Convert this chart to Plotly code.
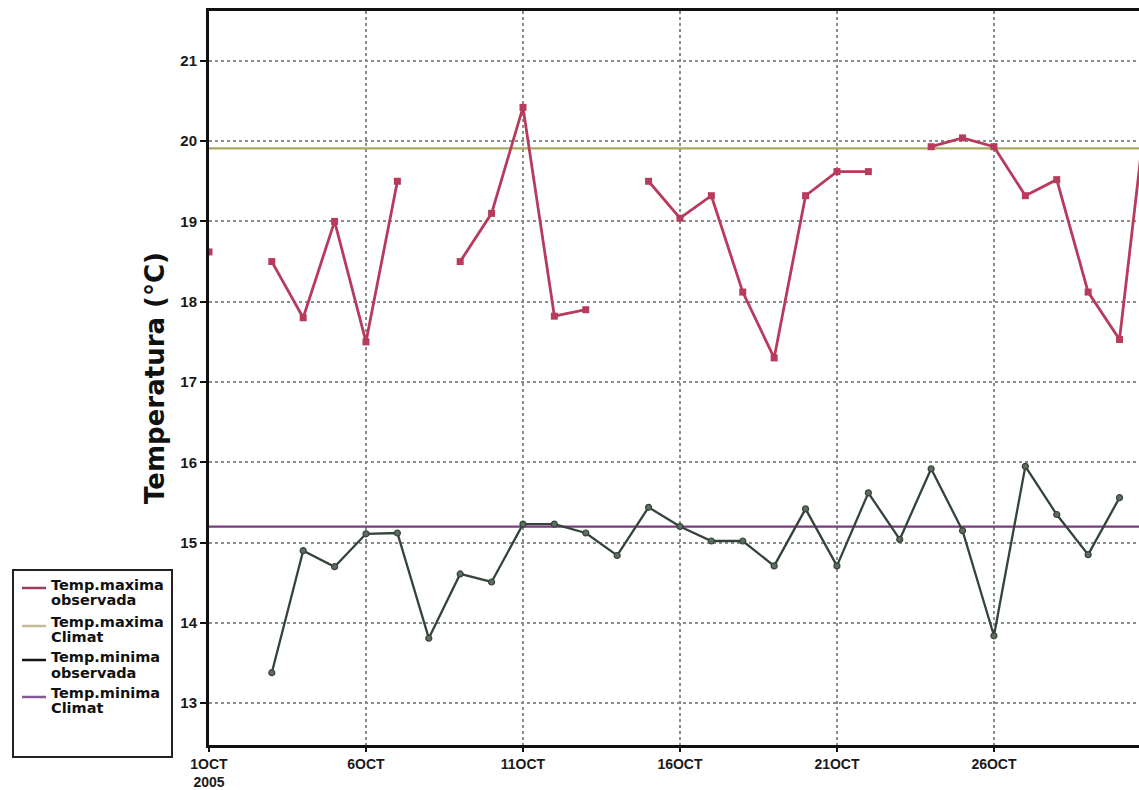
import plotly.graph_objects as go

# ---------------- data ----------------
days = list(range(1, 32))
tmax_obs = [18.62, None, 18.5, 17.8, 19.0, 17.5, 19.5, None, 18.5, 19.1,
            20.42, 17.82, 17.9, None, 19.5, 19.04, 19.32, 18.12, 17.3, 19.32,
            19.62, 19.62, None, 19.93, 20.04, 19.93, 19.32, 19.52, 18.12, 17.53,
            20.9]
tmin_obs = [None, None, 13.38, 14.9, 14.7, 15.11, 15.12, 13.81, 14.61, 14.51,
            15.23, 15.23, 15.12, 14.84, 15.44, 15.2, 15.02, 15.02, 14.71, 15.42,
            14.71, 15.62, 15.04, 15.92, 15.15, 13.84, 15.95, 15.35, 14.85, 15.56,
            None]
tmax_clim = 19.91
tmin_clim = 15.2

tick_days = [1, 6, 11, 16, 21, 26]
tick_labels = ["1OCT<br>2005", "6OCT", "11OCT", "16OCT", "21OCT", "26OCT"]
y_ticks = [13, 14, 15, 16, 17, 18, 19, 20, 21]

legend_line1 = ["Temp.maxima", "Temp.maxima", "Temp.minima", "Temp.minima"]
legend_line2 = ["observada", "Climat", "observada", "Climat"]

# ---------------- styles ----------------
RED = "#b83a5c"
OLIVE = "#a9a862"
GREEN = "#34443a"
PURPLE = "#7a3c80"
LEG_COLORS = ["#9c3c58", "#c2bb94", "#151515", "#875a96"]

W, H = 1139, 790
ML, MR, MT, MB = 209, 0, 11, 45
PW, PH = W - ML - MR, H - MT - MB


def px(x):
    return (x - ML) / PW


def py(y):
    return (H - MB - y) / PH


fig = go.Figure()

fig.add_trace(go.Scatter(x=[days[0], days[-1]], y=[tmax_clim, tmax_clim],
                         mode="lines", line=dict(color=OLIVE, width=2.2),
                         name="Temp.maxima Climat", showlegend=False))
fig.add_trace(go.Scatter(x=[days[0], days[-1]], y=[tmin_clim, tmin_clim],
                         mode="lines", line=dict(color=PURPLE, width=2.2),
                         name="Temp.minima Climat", showlegend=False))
fig.add_trace(go.Scatter(x=days, y=tmax_obs, mode="lines+markers",
                         line=dict(color=RED, width=2.8),
                         marker=dict(symbol="square", size=7, color=RED),
                         connectgaps=False,
                         name="Temp.maxima observada", showlegend=False))
fig.add_trace(go.Scatter(x=days, y=tmin_obs, mode="lines+markers",
                         line=dict(color=GREEN, width=2.3),
                         marker=dict(symbol="circle", size=6, color="#5d6d60",
                                     line=dict(color=GREEN, width=1.2)),
                         connectgaps=False,
                         name="Temp.minima observada", showlegend=False))

# ---------------- custom legend box ----------------
shapes = [dict(type="rect", xref="paper", yref="paper",
               x0=px(13), x1=px(172), y0=py(757), y1=py(570),
               line=dict(color="#222", width=2), fillcolor="white", layer="above")]
annotations = []
sample_y = [588, 626, 660, 697]
text_y1 = [585, 622, 657, 693]
text_y2 = [600, 637, 673, 708]
for i in range(4):
    shapes.append(dict(type="line", xref="paper", yref="paper",
                       x0=px(22), x1=px(46), y0=py(sample_y[i]), y1=py(sample_y[i]),
                       line=dict(color=LEG_COLORS[i], width=2.5), layer="above"))
    for txt, yy in ((legend_line1[i], text_y1[i]), (legend_line2[i], text_y2[i])):
        annotations.append(dict(x=px(49), y=py(yy), xref="paper", yref="paper",
                                text=txt, showarrow=False, xanchor="left",
                                yanchor="middle",
                                font=dict(family="DejaVu Sans", size=14.5,
                                          color="#111", weight="bold")))

fig.update_layout(
    width=W, height=H,
    margin=dict(l=ML, r=MR, t=MT, b=MB),
    paper_bgcolor="white", plot_bgcolor="white",
    showlegend=False,
    shapes=shapes, annotations=annotations,
    xaxis=dict(range=[1.0, 30.62], tickmode="array", tickvals=tick_days,
               ticktext=tick_labels, showline=True, linecolor="#111",
               linewidth=3, mirror=True, ticks="outside", ticklen=4,
               tickwidth=2, tickcolor="#111", showgrid=True,
               gridcolor="#8c8c8c", griddash="dot", gridwidth=1.6,
               zeroline=False,
               tickfont=dict(family="Liberation Sans", size=14, color="#1a1a1a",
                             weight="bold")),
    yaxis=dict(range=[12.48, 21.62], tickmode="array", tickvals=y_ticks,
               showline=True, linecolor="#111", linewidth=3, mirror=False,
               ticks="outside", ticklen=6, tickwidth=2, tickcolor="#111",
               showgrid=True, gridcolor="#8c8c8c", griddash="dot",
               gridwidth=1.6, zeroline=False,
               tickfont=dict(family="Liberation Sans", size=15, color="#1a1a1a",
                             weight="bold"),
               title=dict(text="Temperatura (°C)", standoff=9,
                          font=dict(family="DejaVu Sans", size=26,
                                    color="#111", weight="bold"))),
)

fig.write_html("out.html")
